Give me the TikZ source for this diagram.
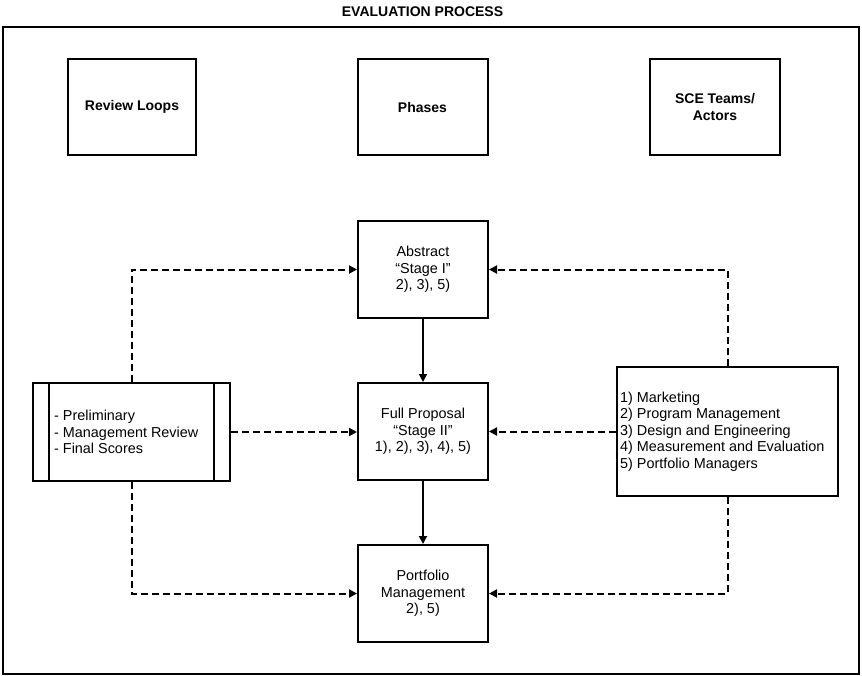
\documentclass[tikz,border=0pt]{standalone}
\usepackage{fontspec}
\setmainfont{Liberation Sans}
\usetikzlibrary{arrows.meta}
\begin{document}
\begin{tikzpicture}[x=1pt,y=-1pt,
  txt/.style={font=\fontsize{14.4}{16.5}\selectfont},
  hdrbox/.style={draw,line width=2pt,minimum width=128pt,minimum height=96pt,align=center,inner sep=0pt,font=\fontsize{14}{16.5}\selectfont\bfseries},
  phbox/.style={draw,line width=2pt,minimum width=130pt,minimum height=97pt,align=center,inner sep=0pt,txt},
  dline/.style={line width=2pt,dash pattern=on 7pt off 4pt},
  tip/.style={-{Triangle[length=8pt,width=8pt]}},
  sline/.style={line width=1.8pt}
]
\useasboundingbox (0,0) rectangle (862,675);
\node[font=\fontsize{14}{16.5}\selectfont\bfseries] (title) at (422.5,12) {EVALUATION PROCESS};
\draw[line width=2.2pt] (3,27) rectangle (859,674);

\node[hdrbox] (rl) at (132,107) {Review Loops};
\node[hdrbox,minimum width=130pt] (ph) at (422.5,107) {Phases};
\node[hdrbox,minimum width=130pt] (sct) at (715,107) {SCE Teams/\\Actors};

\node[phbox] (abs) at (423,269.5) {Abstract\\“Stage I”\\2), 3), 5)};
\node[phbox] (fp) at (423,431.5) {Full Proposal\\“Stage II”\\1), 2), 3), 4), 5)};
\node[phbox] (pm) at (423,593.5) {Portfolio\\Management\\2), 5)};

\node[draw,line width=2pt,minimum width=197pt,minimum height=98pt,inner sep=0pt] (rev) at (131.5,432) {};
\draw[line width=2pt] ([xshift=17pt]rev.north west) -- ([xshift=17pt]rev.south west);
\draw[line width=2pt] ([xshift=-17pt]rev.north east) -- ([xshift=-17pt]rev.south east);
\node[txt,align=left,anchor=west,inner sep=0pt] (revtxt) at (54,432) {- Preliminary\\- Management Review\\- Final Scores};

\node[draw,line width=2pt,minimum width=221pt,minimum height=129pt,inner sep=0pt] (sce) at (727.5,431.5) {};
\node[txt,align=left,anchor=west,inner sep=0pt] (scetxt) at (620,431.5) {1) Marketing\\2) Program Management\\3) Design and Engineering\\4) Measurement and Evaluation\\5) Portfolio Managers};

\draw[sline,tip] (abs.south) -- (fp.north);
\draw[sline,tip] (fp.south) -- (pm.north);

\draw[dline,tip] (rev.north) |- (abs.west);
\draw[dline,tip] (rev.south) |- (pm.west);
\draw[dline,tip] (rev.east) -- (rev.east -| fp.west);
\draw[dline,tip] (sce.north) |- (abs.east);
\draw[dline,tip] (sce.south) |- (pm.east);
\draw[dline,tip] (sce.west) -- (fp.east);
\end{tikzpicture}
\end{document}
